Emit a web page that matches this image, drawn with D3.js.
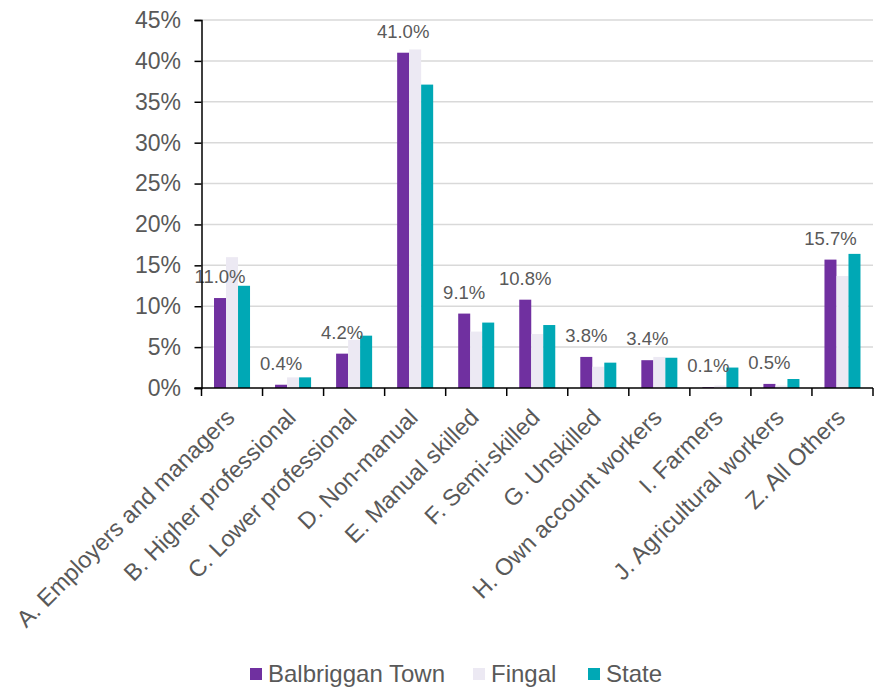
<!DOCTYPE html>
<html>
<head>
<meta charset="utf-8">
<script src="https://cdn.jsdelivr.net/npm/d3@7/dist/d3.min.js"></script>
<style>
  html, body { margin: 0; padding: 0; background: #ffffff; }
  svg { display: block; font-family: "Liberation Sans", Arial, sans-serif; }
</style>
</head>
<body>
<svg id="chart" width="878" height="688"></svg>
<script>
// Socio-economic group shares: Balbriggan Town vs Fingal vs State
const categories = [
  "A. Employers and managers",
  "B. Higher professional",
  "C. Lower professional",
  "D. Non-manual",
  "E. Manual skilled",
  "F. Semi-skilled",
  "G. Unskilled",
  "H. Own account workers",
  "I. Farmers",
  "J. Agricultural workers",
  "Z. All Others"
];
const seriesNames = ["Balbriggan Town", "Fingal", "State"];
const balbriggan = [11.0, 0.4, 4.2, 41.0, 9.1, 10.8, 3.8, 3.4, 0.1, 0.5, 15.7];
const fingal     = [16.0, 1.3, 5.9, 41.4, 6.9, 6.6, 2.6, 3.8, 0.3, 0.3, 13.7];
const state      = [12.5, 1.3, 6.4, 37.1, 8.0, 7.7, 3.1, 3.7, 2.5, 1.1, 16.4];
const yTicks = [0, 5, 10, 15, 20, 25, 30, 35, 40, 45];
const colors = ["#7030a0", "#ece9f3", "#00a8b5"];

const seriesValues = [balbriggan, fingal, state];
const rows = categories.map((c, i) => ({
  category: c,
  values: seriesNames.map((s, j) => ({ series: s, value: seriesValues[j][i] }))
}));

const svg = d3.select("#chart");
const textColor = "#595959";

const x = d3.scaleBand().domain(categories).range([201.5, 873]).padding(0);
const bw = x.bandwidth();
const x1 = d3.scaleBand().domain(seriesNames).range([bw * 0.205, bw * 0.795]).padding(0);
const y = d3.scaleLinear().domain([0, 45]).range([388, 20]);

// horizontal gridlines
svg.append("g")
  .selectAll("line")
  .data(yTicks.filter(t => t > 0))
  .join("line")
  .attr("x1", x.range()[0])
  .attr("x2", x.range()[1])
  .attr("y1", d => y(d))
  .attr("y2", d => y(d))
  .attr("stroke", "#d9d9d9")
  .attr("stroke-width", 1.5);

// bars
const groups = svg.append("g")
  .selectAll("g")
  .data(rows)
  .join("g")
  .attr("transform", d => `translate(${x(d.category)},0)`);

groups.selectAll("rect")
  .data(d => d.values)
  .join("rect")
  .attr("x", d => x1(d.series))
  .attr("width", x1.bandwidth())
  .attr("y", d => y(d.value))
  .attr("height", d => y(0) - y(d.value))
  .attr("fill", (d, i) => colors[i]);

// value labels for Balbriggan Town
svg.append("g")
  .selectAll("text")
  .data(rows)
  .join("text")
  .attr("x", d => x(d.category) + x1(seriesNames[0]) + x1.bandwidth() / 2)
  .attr("y", d => y(d.values[0].value) - 15)
  .attr("text-anchor", "middle")
  .attr("font-size", 18.5)
  .attr("fill", textColor)
  .text(d => d3.format(".1f")(d.values[0].value) + "%");

// y axis
const yAxis = svg.append("g")
  .attr("transform", `translate(${x.range()[0]},0)`)
  .call(d3.axisLeft(y).tickValues(yTicks).tickFormat(d => d + "%").tickSize(7).tickPadding(13.5));
yAxis.select(".domain").attr("stroke", "#000").attr("stroke-width", 1.5);
yAxis.selectAll(".tick line").attr("stroke", "#000").attr("stroke-width", 1.5);
yAxis.selectAll(".tick text")
  .attr("font-size", 23)
  .attr("font-family", "Liberation Sans, Arial, sans-serif")
  .attr("fill", textColor);

// x axis line with ticks on category boundaries
const xAxis = svg.append("g");
xAxis.append("line")
  .attr("x1", x.range()[0] - 7)
  .attr("x2", x.range()[1])
  .attr("y1", y(0))
  .attr("y2", y(0))
  .attr("stroke", "#000")
  .attr("stroke-width", 1.5);
const boundaries = categories.map(c => x(c)).concat([x.range()[1]]);
xAxis.selectAll("line.tick")
  .data(boundaries)
  .join("line")
  .attr("class", "tick")
  .attr("x1", d => d)
  .attr("x2", d => d)
  .attr("y1", y(0))
  .attr("y2", y(0) + 8)
  .attr("stroke", "#000")
  .attr("stroke-width", 1.5);

// rotated category labels
xAxis.selectAll("text")
  .data(categories)
  .join("text")
  .attr("transform", d => `translate(${x(d) + bw / 2 + 4},419) rotate(-45)`)
  .attr("text-anchor", "end")
  .attr("font-size", 23.5)
  .attr("fill", textColor)
  .text(d => d);

// legend
const legendItems = [
  { name: seriesNames[0], color: colors[0], x: 250 },
  { name: seriesNames[1], color: colors[1], x: 473 },
  { name: seriesNames[2], color: colors[2], x: 588 }
];
const legend = svg.append("g")
  .selectAll("g")
  .data(legendItems)
  .join("g")
  .attr("transform", d => `translate(${d.x},668)`);
legend.append("rect")
  .attr("width", 12)
  .attr("height", 12)
  .attr("fill", d => d.color);
legend.append("text")
  .attr("x", 18)
  .attr("y", 14)
  .attr("font-size", 24)
  .attr("fill", textColor)
  .text(d => d.name);
</script>
</body>
</html>
